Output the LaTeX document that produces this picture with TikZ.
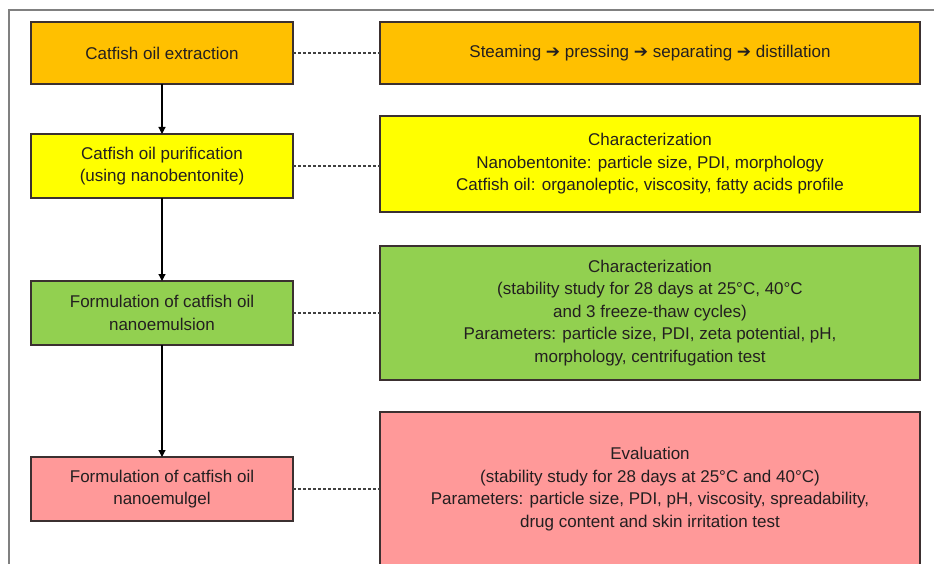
\documentclass[tikz,border=0pt]{standalone}
\usepackage{fontspec}
\setmainfont{Liberation Sans}
\newfontfamily\arrowfont{DejaVu Sans}
\usetikzlibrary{arrows.meta}
\definecolor{boxorange}{HTML}{FFC000}
\definecolor{boxyellow}{HTML}{FFFF00}
\definecolor{boxgreen}{HTML}{92D050}
\definecolor{boxpink}{HTML}{FF9999}
\definecolor{edgedark}{HTML}{3B3030}
\definecolor{textdark}{HTML}{231F20}
\newcommand{\stepto}{ {\arrowfont\fontsize{17}{17}\selectfont ➔} }
\tikzset{
  stagebox/.style={rectangle, draw=edgedark, line width=1.6pt, minimum width=262pt,
    align=center, inner sep=0pt, outer sep=0pt, text=textdark,
    font=\fontsize{17}{22.5}\selectfont},
  detailbox/.style={stagebox, minimum width=540pt},
  link/.style={draw=darkgray, line width=1.8pt, dash pattern=on 3pt off 2pt},
}
\begin{document}
\begin{tikzpicture}[x=1pt, y=-1pt, >={Triangle[length=7pt,width=7pt]}]
  \useasboundingbox (0,0) rectangle (934,564);
  \draw [gray, line width=1.2pt] (9,10) rectangle (950,580);

  % stages
  \node [stagebox, fill=boxorange, minimum height=62pt] (extract) at (162,53) {Catfish oil extraction};
  \node [stagebox, fill=boxyellow, minimum height=64pt] (purify) at (162,166) {Catfish oil purification\\(using nanobentonite)};
  \node [stagebox, fill=boxgreen, minimum height=64pt] (emulsion) at (162,313) {Formulation of catfish oil\\nanoemulsion};
  \node [stagebox, fill=boxpink, minimum height=64pt] (emulgel) at (162,489) {Formulation of catfish oil\\nanoemulgel};

  % details
  \node [detailbox, fill=boxorange, minimum height=62pt] (steps) at (650,53) {Steaming\stepto pressing\stepto separating\stepto distillation};
  \node [detailbox, fill=boxyellow, minimum height=96pt] (charpur) at (650,164) {Characterization\\Nanobentonite: particle size, PDI, morphology\\Catfish oil: organoleptic, viscosity, fatty acids profile};
  \node [detailbox, fill=boxgreen, minimum height=134pt] (charemul) at (650,313) {Characterization\\(stability study for 28 days at 25°C, 40°C\\and 3 freeze-thaw cycles)\\Parameters: particle size, PDI, zeta potential, pH,\\morphology, centrifugation test};
  \node [detailbox, fill=boxpink, minimum height=154pt] (evalgel) at (650,489) {Evaluation\\(stability study for 28 days at 25°C and 40°C)\\Parameters: particle size, PDI, pH, viscosity, spreadability,\\drug content and skin irritation test};

  \path[->, line width=1.2pt] (extract) edge (purify);
  \path[->, line width=1.2pt] (purify) edge (emulsion);
  \path[->, line width=1.2pt] (emulsion) edge (emulgel);

  \path[link] (extract.east) -- (extract.east -| steps.west);
  \path[link] (purify.east) -- (purify.east -| charpur.west);
  \path[link] (emulsion.east) -- (emulsion.east -| charemul.west);
  \path[link] (emulgel.east) -- (emulgel.east -| evalgel.west);
\end{tikzpicture}
\end{document}
